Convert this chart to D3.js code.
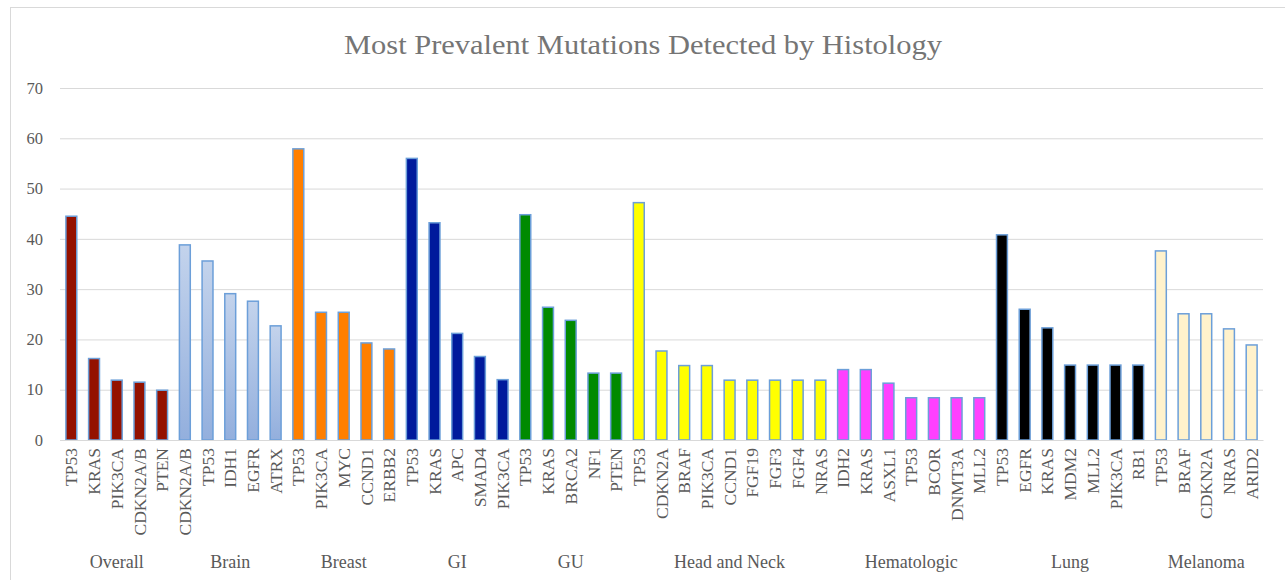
<!DOCTYPE html>
<html>
<head>
<meta charset="utf-8">
<script src="https://cdn.jsdelivr.net/npm/d3@7"></script>
<style>
  html, body { margin: 0; padding: 0; background: #fff; }
  svg { display: block; font-family: "Liberation Serif", "DejaVu Serif", serif; }
  .grid line { stroke: #d9d9d9; }
  .tick text { fill: #595959; }
</style>
</head>
<body>
<script>
const histologies = ["Overall", "Brain", "Breast", "GI", "GU", "Head and Neck", "Hematologic", "Lung", "Melanoma"];

const genesByGroup = [
  ["TP53", "KRAS", "PIK3CA", "CDKN2A/B", "PTEN"],
  ["CDKN2A/B", "TP53", "IDH1", "EGFR", "ATRX"],
  ["TP53", "PIK3CA", "MYC", "CCND1", "ERBB2"],
  ["TP53", "KRAS", "APC", "SMAD4", "PIK3CA"],
  ["TP53", "KRAS", "BRCA2", "NF1", "PTEN"],
  ["TP53", "CDKN2A", "BRAF", "PIK3CA", "CCND1", "FGF19", "FGF3", "FGF4", "NRAS"],
  ["IDH2", "KRAS", "ASXL1", "TP53", "BCOR", "DNMT3A", "MLL2"],
  ["TP53", "EGFR", "KRAS", "MDM2", "MLL2", "PIK3CA", "RB1"],
  ["TP53", "BRAF", "CDKN2A", "NRAS", "ARID2"]
];

const valuesByGroup = [
  [44.5, 16.2, 11.9, 11.5, 9.9],
  [38.8, 35.6, 29.1, 27.6, 22.7],
  [57.9, 25.4, 25.4, 19.3, 18.1],
  [56.0, 43.2, 21.2, 16.6, 12.0],
  [44.8, 26.4, 23.8, 13.3, 13.3],
  [47.2, 17.7, 14.8, 14.8, 11.9, 11.9, 11.9, 11.9, 11.9],
  [14.0, 14.0, 11.3, 8.4, 8.4, 8.4, 8.4],
  [40.8, 26.0, 22.3, 14.9, 14.9, 14.9, 14.9],
  [37.6, 25.1, 25.1, 22.1, 18.9]
];

const groupColors = ["#941100", "url(#brainFill)", "#ff7f00", "#001a9c", "#008a00", "#ffff00", "#ff40ff", "#000000", "#fff2cc"];

const yTicks = [0, 10, 20, 30, 40, 50, 60, 70];

const chartTitle = "Most Prevalent Mutations Detected by Histology";

// flatten into one row per bar
const rows = [];
genesByGroup.forEach((genes, g) => {
  genes.forEach((gene, i) => {
    rows.push({ id: rows.length, gene: gene, value: valuesByGroup[g][i], group: g });
  });
});

const canvas = { width: 1285, height: 580, left: 60, right: 1263, top: 88, bottom: 440 };

const svg = d3.select("body").append("svg")
  .attr("width", canvas.width)
  .attr("height", canvas.height);

const defs = svg.append("defs");
const grad = defs.append("linearGradient")
  .attr("id", "brainFill")
  .attr("x1", 0).attr("y1", 0).attr("x2", 0).attr("y2", 1);
grad.append("stop").attr("offset", "0%").attr("stop-color", "#c3d3ec");
grad.append("stop").attr("offset", "100%").attr("stop-color", "#93afdd");

// outer chart frame
svg.append("rect")
  .attr("x", 10.5).attr("y", 7.5)
  .attr("width", canvas.width)
  .attr("height", canvas.height)
  .attr("fill", "none")
  .attr("stroke", "#d9d9d9");

svg.append("text")
  .attr("x", 643)
  .attr("y", 54)
  .attr("text-anchor", "middle")
  .attr("fill", "#757575")
  .attr("textLength", 598)
  .attr("lengthAdjust", "spacingAndGlyphs")
  .style("font-size", "28px")
  .text(chartTitle);

const xScale = d3.scaleBand()
  .domain(rows.map(d => d.id))
  .range([canvas.left, canvas.right])
  .paddingInner(0.52)
  .paddingOuter(0.26);

const yScale = d3.scaleLinear()
  .domain([0, 70])
  .range([canvas.bottom, canvas.top]);

// gridlines + y labels
const yAxis = svg.append("g")
  .attr("class", "grid")
  .attr("transform", `translate(${canvas.left},0)`)
  .call(d3.axisLeft(yScale)
    .tickValues(yTicks)
    .tickSize(-(canvas.right - canvas.left))
    .tickPadding(17));
yAxis.select(".domain").remove();
yAxis.selectAll(".tick text")
  .style("font-size", "16.5px")
  .style("font-family", "Liberation Serif, serif")
  .attr("fill", "#595959");

svg.selectAll("rect.bar")
  .data(rows)
  .enter()
  .append("rect")
  .attr("class", "bar")
  .attr("x", d => xScale(d.id))
  .attr("y", d => yScale(d.value))
  .attr("width", xScale.bandwidth())
  .attr("height", d => yScale(0) - yScale(d.value))
  .attr("fill", d => groupColors[d.group])
  .attr("stroke", "#6c9fd9")
  .attr("stroke-width", 1.5);

// category axis with gene names
const xAxis = svg.append("g")
  .attr("transform", `translate(0,${canvas.bottom})`)
  .call(d3.axisBottom(xScale).tickSize(0).tickFormat(i => rows[i].gene));
xAxis.select(".domain").attr("stroke", "#d9d9d9");
xAxis.selectAll(".tick text")
  .attr("transform", "rotate(-90)")
  .attr("text-anchor", "end")
  .attr("x", -8)
  .attr("y", 0)
  .attr("dy", "0.35em")
  .style("font-size", "17.5px")
  .style("font-family", "Liberation Serif, serif")
  .attr("fill", "#595959");

// histology group labels
svg.selectAll("text.group")
  .data(histologies)
  .enter()
  .append("text")
  .attr("class", "group")
  .attr("x", (name, g) => {
    const ids = rows.filter(r => r.group === g).map(r => r.id);
    return (xScale(d3.min(ids)) + xScale(d3.max(ids)) + xScale.bandwidth()) / 2;
  })
  .attr("y", 568)
  .attr("text-anchor", "middle")
  .attr("fill", "#595959")
  .style("font-size", "18px")
  .text(d => d);
</script>
</body>
</html>
